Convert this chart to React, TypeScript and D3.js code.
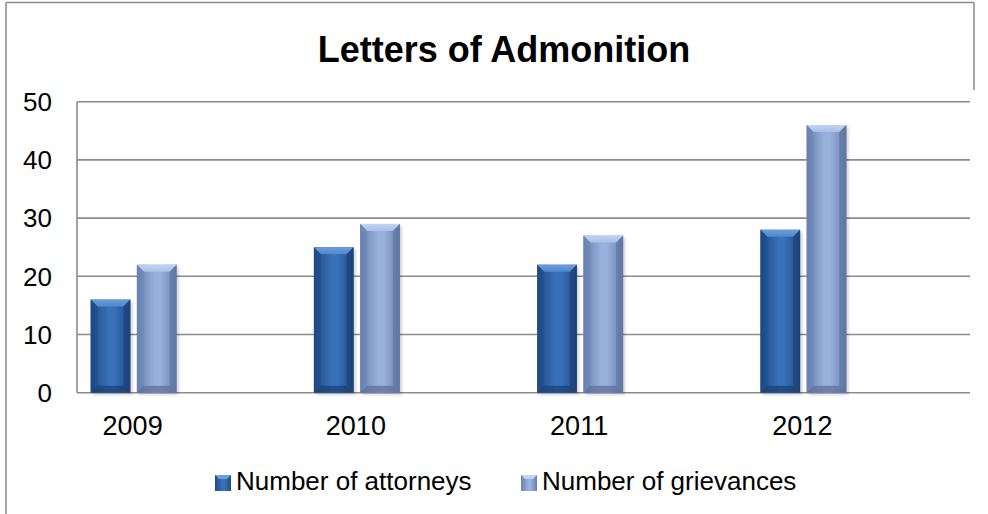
import React from "react";
import * as d3 from "d3";

const categories = ["2009", "2010", "2011", "2012"];
const seriesNames = ["Number of attorneys", "Number of grievances"];
const attorneys = [16, 25, 22, 28];
const grievances = [22, 29, 27, 46];
const yTicks = [0, 10, 20, 30, 40, 50];
const title = "Letters of Admonition";

const W = 988;
const H = 514;
const plotLeft = 77;
const plotRight = 970;
const plotTop = 101.7;
const plotBottom = 392.7;
const catOffset = -55;

const palettes = [
  { edge: "#1d4a86", mid: "#3a70b8", top: "#6d9ddc", bottom: "#1a3f73", topEdge: "#4f86cc" },
  { edge: "#6981b0", mid: "#98b0da", top: "#c2d4f2", bottom: "#5a6f99", topEdge: "#a9bfe6" },
];

export default function App() {
  const y = d3.scaleLinear().domain([0, 50]).range([plotBottom, plotTop]);
  const x = d3
    .scaleBand<string>()
    .domain(categories)
    .range([plotLeft + catOffset, plotRight + catOffset]);
  const inner = d3.scaleBand<string>().domain(seriesNames).range([-43, 43]).paddingInner(0.14);
  const values = [attorneys, grievances];
  const bev = 7;

  const bars: React.ReactNode[] = [];
  categories.forEach((c, ci) => {
    const cx = (x(c) ?? 0) + x.bandwidth() / 2;
    seriesNames.forEach((s, si) => {
      const v = values[si][ci];
      const bx = cx + (inner(s) ?? 0);
      const bw = inner.bandwidth();
      const by = y(v);
      const bh = y(0) - y(v);
      const p = palettes[si];
      const b = Math.min(bev, bh / 2);
      bars.push(
        <g key={`${c}-${s}`}>
          <rect x={bx + 2} y={by + 2} width={bw} height={bh} fill="#000" opacity={0.18} filter="url(#blur)" />
          <rect x={bx} y={by} width={bw} height={bh} fill={`url(#grad${si})`} />
          <polygon
            points={`${bx},${by} ${bx + bw},${by} ${bx + bw - b},${by + b} ${bx + b},${by + b}`}
            fill={`url(#topgrad${si})`}
          />
          <polygon
            points={`${bx},${by} ${bx + b},${by + b} ${bx + b},${by + bh - b} ${bx},${by + bh}`}
            fill={p.edge}
            opacity={0.55}
          />
          <polygon
            points={`${bx + bw},${by} ${bx + bw - b},${by + b} ${bx + bw - b},${by + bh - b} ${bx + bw},${by + bh}`}
            fill={p.bottom}
            opacity={0.6}
          />
          <polygon
            points={`${bx},${by + bh} ${bx + b},${by + bh - b} ${bx + bw - b},${by + bh - b} ${bx + bw},${by + bh}`}
            fill={p.bottom}
            opacity={0.7}
          />
        </g>
      );
    });
  });

  const legendItems = [
    { label: seriesNames[0], mx: 215, tx: 236 },
    { label: seriesNames[1], mx: 521, tx: 542 },
  ];

  return (
    <svg
      width={W}
      height={H}
      style={{ position: "absolute", left: 0, top: 0, background: "#fff" }}
      fontFamily="'Liberation Sans', Arial, sans-serif"
    >
      <defs>
        {palettes.map((p, i) => (
          <linearGradient key={i} id={`grad${i}`} x1="0" x2="1" y1="0" y2="0">
            <stop offset="0%" stopColor={p.edge} />
            <stop offset="45%" stopColor={p.mid} />
            <stop offset="60%" stopColor={p.mid} />
            <stop offset="100%" stopColor={p.edge} />
          </linearGradient>
        ))}
        {palettes.map((p, i) => (
          <linearGradient key={`t${i}`} id={`topgrad${i}`} x1="0" x2="0" y1="0" y2="1">
            <stop offset="0%" stopColor={p.top} />
            <stop offset="100%" stopColor={p.topEdge} />
          </linearGradient>
        ))}
        <filter id="blur" x="-20%" y="-20%" width="140%" height="140%">
          <feGaussianBlur stdDeviation="1.5" />
        </filter>
      </defs>

      <rect x={0} y={0} width={W} height={H} fill="#fff" />
      {/* frame */}
      <line x1={6} x2={6} y1={2.5} y2={H} stroke="#8a8a8a" strokeWidth={1.5} />
      <line x1={6} x2={974} y1={2.5} y2={2.5} stroke="#8a8a8a" strokeWidth={1.5} />
      <line x1={974} x2={974} y1={2.5} y2={90} stroke="#8a8a8a" strokeWidth={1.5} />

      <text x={504} y={62} textAnchor="middle" fontSize={36} fontWeight="bold" fill="#000">
        {title}
      </text>

      {/* gridlines */}
      {yTicks.map((t) => (
        <line
          key={t}
          x1={plotLeft}
          x2={plotRight}
          y1={y(t)}
          y2={y(t)}
          stroke="#8c8c8c"
          strokeWidth={1.6}
        />
      ))}
      <line x1={plotLeft} x2={plotLeft} y1={plotTop} y2={plotBottom} stroke="#8c8c8c" strokeWidth={1.6} />

      {yTicks.map((t) => (
        <text key={t} x={52} y={y(t)} dy="0.36em" textAnchor="end" fontSize={26} fill="#000">
          {t}
        </text>
      ))}

      {bars}

      {categories.map((c) => (
        <text
          key={c}
          x={(x(c) ?? 0) + x.bandwidth() / 2 - 1}
          y={435}
          textAnchor="middle"
          fontSize={27}
          fill="#000"
        >
          {c}
        </text>
      ))}

      {legendItems.map((it, i) => (
        <g key={it.label}>
          <rect x={it.mx} y={475} width={16} height={16} fill={`url(#grad${i})`} />
          <polygon
            points={`${it.mx},475 ${it.mx + 16},475 ${it.mx + 12},479 ${it.mx + 4},479`}
            fill={palettes[i].top}
          />
          <text x={it.tx} y={490} fontSize={26} fill="#000">
            {it.label}
          </text>
        </g>
      ))}
    </svg>
  );
}
